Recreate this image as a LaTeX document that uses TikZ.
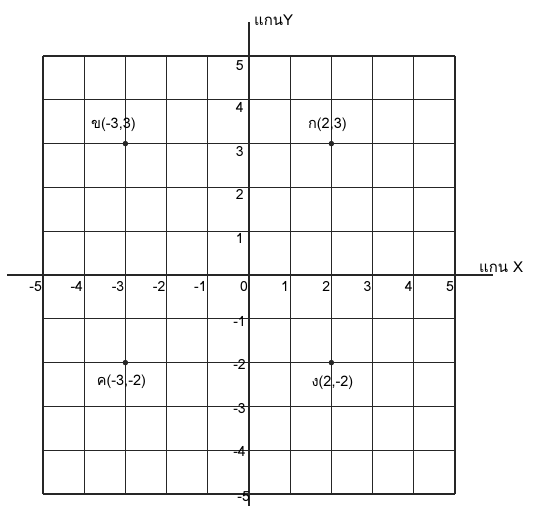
\documentclass[tikz,border=0pt]{standalone}
\usepackage{fontspec}
\setmainfont[Script=Thai]{Loma}
\usepackage{tikz}
\usetikzlibrary{positioning}

\begin{document}
\begin{tikzpicture}[
    x=41.2pt,y=43.8pt,
    gridline/.style={draw=black!85,line width=1.2pt,xstep=41.2pt,ystep=43.8pt},
    axisline/.style={draw=black!85,line width=1.3pt},
    tick/.style={font=\fontsize{14}{16}\selectfont,inner sep=1pt},
    dot/.style={circle,fill=black!85,inner sep=0pt,minimum size=5.5pt},
    plabel/.style={font=\fontsize{14.5}{16}\selectfont,inner sep=0pt},
    axlabel/.style={font=\fontsize{15}{17}\selectfont,inner sep=0pt},
]
    \useasboundingbox (-6.044,-5.320) rectangle (7.039,6.279);

    % grid and axes
    \draw[gridline] (-5,-5) grid (5,5);
    \coordinate (xl) at (-5.874,0);
    \coordinate (xr) at (5.922,0);
    \coordinate (yb) at (0,-5.27);
    \coordinate (yt) at (0,5.776);
    \draw[axisline] (xl) -- (xr);
    \draw[axisline] (yb) -- (yt);
    \node[axlabel,anchor=west] (ylab) at (0.12,5.82) {แกนY};
    \node[axlabel,anchor=south west] (xlab) at (5.58,0.05) {แกน X};

    % numbers on the x axis
    \node[tick,anchor=north east] (xm5) at (-5,-0.12) {-5};
    \node[tick,anchor=north east] (xm4) at (-4,-0.12) {-4};
    \node[tick,anchor=north east] (xm3) at (-3,-0.12) {-3};
    \node[tick,anchor=north east] (xm2) at (-2,-0.12) {-2};
    \node[tick,anchor=north east] (xm1) at (-1,-0.12) {-1};
    \node[tick,anchor=north east] (x0) at (0,-0.12) {0};
    \node[tick,anchor=north east] (x1) at (1,-0.12) {1};
    \node[tick,anchor=north east] (x2) at (2,-0.12) {2};
    \node[tick,anchor=north east] (x3) at (3,-0.12) {3};
    \node[tick,anchor=north east] (x4) at (4,-0.12) {4};
    \node[tick,anchor=north east] (x5) at (5,-0.12) {5};

    % numbers on the y axis
    \node[tick,anchor=north east] (y5) at (-0.1,4.92) {5};
    \node[tick,anchor=north east] (y4) at (-0.1,3.97) {4};
    \node[tick,anchor=north east] (y3) at (-0.1,2.97) {3};
    \node[tick,anchor=north east] (y2) at (-0.1,1.97) {2};
    \node[tick,anchor=north east] (y1) at (-0.1,0.97) {1};
    \node[tick,anchor=east] (ym1) at (-0.05,-1.05) {-1};
    \node[tick,anchor=east] (ym2) at (-0.05,-2.05) {-2};
    \node[tick,anchor=east] (ym3) at (-0.05,-3.05) {-3};
    \node[tick,anchor=east] (ym4) at (-0.05,-4.02) {-4};
    \node[tick,anchor=east] (ym5) at (0.05,-5.05) {-5};

    % points
    \node[dot] (pA) at (2,3) {};
    \node[dot] (pB) at (-3,3) {};
    \node[dot] (pC) at (-3,-2) {};
    \node[dot] (pD) at (2,-2) {};
    \node[plabel,above=9pt of pA,xshift=-4pt] (lA) {ก(2,3)};
    \node[plabel,above=9pt of pB,xshift=-12pt] (lB) {ข(-3,3)};
    \node[plabel,below=9pt of pC,xshift=-4pt] (lC) {ค(-3,-2)};
    \node[plabel,below=10pt of pD,xshift=1pt] (lD) {ง(2,-2)};
\end{tikzpicture}
\end{document}
